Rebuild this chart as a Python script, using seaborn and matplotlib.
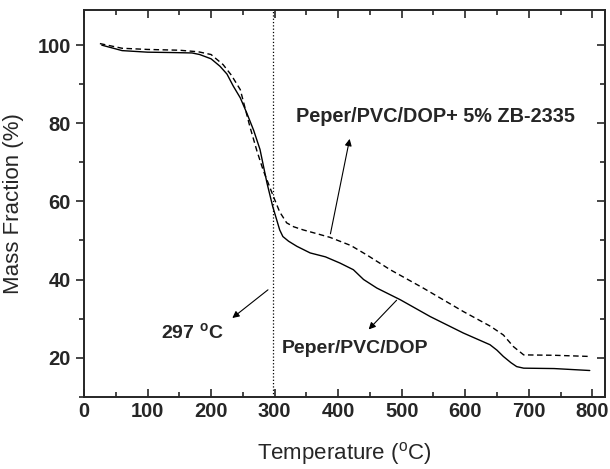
import seaborn as sns
import matplotlib.pyplot as plt
import pandas as pd
from matplotlib.ticker import MultipleLocator

# TG curves
temp_dop = [28, 60, 100, 140, 170, 182, 200, 214, 225, 235, 246, 256, 267, 277, 288, 297, 308, 313, 322, 335, 356, 380, 403, 424, 440, 461, 498, 545, 597, 625, 639, 650, 660, 672, 681, 692, 740, 796]
mass_dop = [100, 98.6, 98.2, 98.1, 98.0, 97.6, 96.5, 94.6, 92.6, 89.5, 86.5, 82.7, 78.2, 73.3, 64.7, 58.7, 52.7, 51.0, 49.8, 48.5, 46.8, 45.8, 44.2, 42.5, 40.0, 37.8, 34.8, 30.5, 26.3, 24.3, 23.3, 21.9, 20.3, 18.7, 17.7, 17.3, 17.2, 16.7]

temp_zb = [25, 60, 100, 150, 180, 200, 219, 232, 246, 261, 272, 282, 298, 308, 319, 330, 345, 387, 420, 445, 482, 534, 597, 640, 660, 676, 692, 740, 796]
mass_zb = [100.4, 99.2, 98.9, 98.7, 98.3, 97.6, 95.0, 92.3, 88.6, 79.2, 73.0, 68.0, 61.3, 57.3, 54.5, 53.5, 52.7, 50.8, 48.7, 46.3, 42.5, 37.8, 31.8, 28.0, 25.8, 22.8, 20.7, 20.6, 20.3]

onset = 297  # 縦の点線

df = pd.concat([
    pd.DataFrame({'T': temp_dop, 'm': mass_dop, 'sample': 'Peper/PVC/DOP'}),
    pd.DataFrame({'T': temp_zb, 'm': mass_zb, 'sample': 'Peper/PVC/DOP+ 5% ZB-2335'}),
])

sns.set_style('ticks')
plt.rcParams['font.family'] = ['Liberation Sans', 'DejaVu Sans']

fig = plt.figure(figsize=(6.1, 4.69), dpi=100)
ax = fig.add_axes([0.1377, 0.1542, 0.8541, 0.8245])

sns.lineplot(data=df, x='T', y='m', style='sample', color='black', linewidth=1.0,
             dashes={'Peper/PVC/DOP': '', 'Peper/PVC/DOP+ 5% ZB-2335': (4, 2.5)},
             sort=False, estimator=None, legend=False, ax=ax)

ax.axvline(onset, color='black', linestyle=':', linewidth=0.9)

ax.set_xlim(0, 820)
ax.set_ylim(10, 109)
ax.set_xticks(range(0, 801, 100))
ax.set_yticks(range(20, 101, 20))
ax.xaxis.set_minor_locator(MultipleLocator(50))
ax.yaxis.set_minor_locator(MultipleLocator(10))

# x: 内向き(上下)、y: 外向き
ax.tick_params(axis='x', which='both', direction='in', top=True, bottom=True, width=1.2)
ax.tick_params(axis='y', which='both', direction='out', width=1.2, left=True, right=False)
ax.tick_params(which='major', length=6)
ax.tick_params(which='minor', length=3.5)
ax.tick_params(axis='both', which='major', labelsize=14.5)
for lab in ax.get_xticklabels() + ax.get_yticklabels():
    lab.set_fontweight('bold')

# 右側は内向きの目盛り
ax2 = ax.secondary_yaxis('right')
ax2.yaxis.set_major_locator(MultipleLocator(20))
ax2.yaxis.set_minor_locator(MultipleLocator(10))
ax2.tick_params(which='both', direction='in', labelright=False, width=1.2)
ax2.tick_params(which='major', length=6)
ax2.tick_params(which='minor', length=3.5)

for s in ax.spines.values():
    s.set_linewidth(1.4)
    s.set_visible(True)
ax2.spines['right'].set_linewidth(1.4)

ax.set_xlabel('Temperature ($^\\mathregular{o}$C)', fontsize=16, labelpad=14)
ax.set_ylabel('Mass Fraction (%)', fontsize=16, labelpad=10)

arrow = dict(arrowstyle='-|>', color='black', lw=0.8, mutation_scale=10)
ax.annotate('', xy=(419, 76.7), xytext=(387, 51.0), arrowprops=arrow)
ax.annotate('', xy=(445, 26.7), xytext=(495, 35.2), arrowprops=arrow)
ax.annotate('', xy=(230, 29.7), xytext=(293, 37.8), arrowprops=arrow)

ax.text(553, 81.7, 'Peper/PVC/DOP+ 5% ZB-2335', fontsize=14.3, fontweight='bold', ha='center', va='center')
ax.text(427, 22.4, 'Peper/PVC/DOP', fontsize=14, fontweight='bold', ha='center', va='center')
ax.text(170, 26.3, '297 $^\\mathregular{o}$C', fontsize=14, fontweight='bold', ha='center', va='center')

fig.savefig('out.png', dpi=100)
